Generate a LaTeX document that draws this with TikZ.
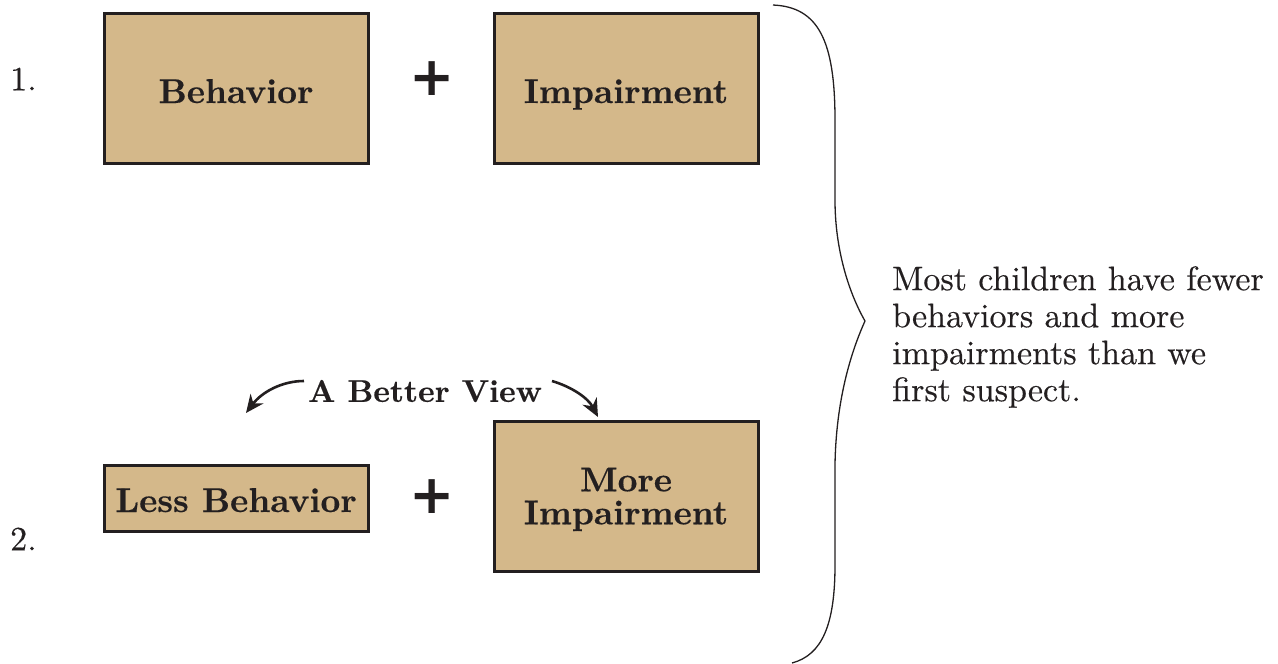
\documentclass[tikz,border=0pt]{standalone}
\usepackage{fontspec}
\newfontfamily\plusfont{DejaVu Sans}
\newfontfamily\descfont{lmroman10-regular.otf}[FakeBold=0.35]
\newfontfamily\boxfont{lmroman10-bold.otf}[FakeBold=0.35]
\usetikzlibrary{arrows.meta}
\definecolor{tanfill}{HTML}{D4B88A}
\definecolor{ink}{HTML}{231F20}
\tikzset{
  box/.style={draw=ink, line width=3pt, fill=tanfill, minimum width=264pt, inner sep=0pt,
    text=ink, font=\boxfont\fontsize{34.5}{33}\selectfont, align=center},
  plussign/.style={text=ink, inner sep=0pt, font=\plusfont\bfseries\fontsize{54}{54}\selectfont},
  numlabel/.style={text=ink, inner sep=0pt, anchor=west, font=\descfont\fontsize{34}{36}\selectfont},
  curvearrow/.style={draw=ink, line width=2.6pt, -{Stealth[length=18pt,width=16pt]}},
  bracestyle/.style={draw=ink, line width=1.3pt}
}
\begin{document}
\begin{tikzpicture}[x=1pt,y=-1pt]
\useasboundingbox (0,0) rectangle (1278,664);
% row 1
\node[box, minimum height=150pt, text height=30pt, text depth=0pt] (beh) at (236,88) {Behavior};
\node[box, minimum height=150pt, text height=30pt, text depth=0pt] (imp) at (626,88) {Impairment};
\node[plussign] (p1) at (432,79) {+};
\node[numlabel] (n1) at (10,79) {1.};
% row 2
\node[box, minimum height=66pt, text height=28pt, text depth=0pt] (less) at (236,498) {Less Behavior};
\node[box, minimum height=150pt, text depth=-5.3pt] (more) at (626,496) {More\\Impairment};
\node[plussign] (p2) at (432,497) {+};
\node[numlabel] (n2) at (10,539) {2.};
% better view
\node[text=ink, inner sep=0pt, font=\boxfont\fontsize{31.5}{32}\selectfont] (view) at (425,391) {A Better View};
\coordinate (la) at (304,381);
\coordinate (lb) at (246,413);
\coordinate (ra) at (552,381);
\coordinate (rb) at (598,417);
\draw[curvearrow] (la) .. controls (282,381) and (262,392) .. (lb);
\draw[curvearrow] (ra) .. controls (572,387) and (588,398) .. (rb);
% brace
\coordinate (btop) at (773,5);
\coordinate (btip) at (865,321);
\coordinate (bbot) at (792,663);
\draw[bracestyle] (btop) .. controls (818,7) and (835,40) .. (835,120)
  -- (835,200) .. controls (835,250) and (849,293) .. (btip)
  .. controls (851,352) and (836,400) .. (835,465)
  -- (835,565) .. controls (835,625) and (822,655) .. (bbot);
% description
\node[text=ink, inner sep=0pt, anchor=north west, align=left,
  font=\descfont\fontsize{34}{37}\selectfont] (desc) at (892,266)
  {Most children have fewer\\behaviors and more\\impairments than we\\first suspect.};
\end{tikzpicture}
\end{document}
